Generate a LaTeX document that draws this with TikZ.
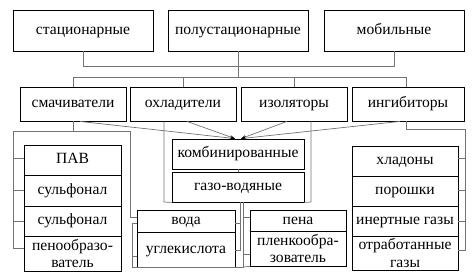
\documentclass[tikz,border=0pt]{standalone}
\usepackage{fontspec}
\setmainfont{Liberation Serif}
\usetikzlibrary{arrows.meta}
\begin{document}
\begin{tikzpicture}[x=1pt,y=-1pt,
  box/.style={draw=black,line width=0.8pt,inner sep=0pt,align=center,
    font=\fontsize{15.6}{17.5}\selectfont,text height=10.8pt,text depth=3.6pt},
  box2/.style={draw=black,line width=0.8pt,inner sep=0pt,align=center,
    font=\fontsize{15.6}{17.5}\selectfont},
  conn/.style={draw=black!55,line width=0.7pt},
  arr/.style={draw=black!55,line width=0.7pt,-{Stealth[length=5pt,width=3.5pt,color=black]}}]
\useasboundingbox (0,0) rectangle (475,277);
% top row
\node[box,minimum width=140,minimum height=41] (stac) at (83,30.5) {стационарные};
\node[box,minimum width=140,minimum height=41] (polu) at (238,30.5) {полустационарные};
\node[box,minimum width=140,minimum height=41] (mob) at (394,30.5) {мобильные};
% second row
\node[box,minimum width=106,minimum height=34] (smach) at (73,104) {смачиватели};
\node[box,minimum width=106,minimum height=34] (ohl) at (183,104) {охладители};
\node[box,minimum width=106,minimum height=34] (izol) at (294,104) {изоляторы};
\node[box,minimum width=112,minimum height=34] (ingib) at (408,104) {ингибиторы};
% left stack
\node[box,minimum width=97,minimum height=30] (pav) at (72.5,160) {ПАВ};
\node[box,minimum width=97,minimum height=31] (sulf1) at (72.5,190.5) {сульфонал};
\node[box,minimum width=97,minimum height=30] (sulf2) at (72.5,221) {сульфонал};
\node[box2,minimum width=97,minimum height=35] (peno) at (72.5,253.5) {пенообразо-\\ватель};
% center
\node[box,minimum width=132,minimum height=30] (komb) at (238,154) {комбинированные};
\node[box,minimum width=132,minimum height=30] (gaz) at (238,187) {газо-водяные};
% water stack
\node[box,minimum width=98,minimum height=22] (voda) at (186,221) {вода};
\node[box,minimum width=98,minimum height=35] (uglek) at (186,249.5) {углекислота};
% foam stack
\node[box,minimum width=96,minimum height=21] (pena) at (298,220.5) {пена};
\node[box2,minimum width=96,minimum height=35] (plen) at (298,248.5) {пленкообра-\\зователь};
% right stack
\node[box,minimum width=106,minimum height=30] (hlad) at (405,161) {хладоны};
\node[box,minimum width=106,minimum height=30] (por) at (405,191) {порошки};
\node[box,minimum width=106,minimum height=30] (inert) at (405,221) {инертные газы};
\node[box2,minimum width=106,minimum height=34] (otrab) at (405,253) {отработанные\\газы};
% bus coordinates
\coordinate (busA) at (238,66);
\coordinate (busB) at (238,77);
\coordinate (lbTL) at (13,131);
\coordinate (lbTR) at (130,131);
\coordinate (fL) at (164,202);
\coordinate (fR) at (311,202);
\coordinate (gv) at (243,202);
\coordinate (gv2) at (240,202);
\coordinate (vBL) at (132,267);
\coordinate (rbTR) at (465,129);
% top connectors
\draw[conn] (stac.south) |- (busA);
\draw[conn] (mob.south) |- (busA);
\draw[conn] (polu.south) -- (busB);
\draw[conn] (smach.north) |- (busB);
\draw[conn] (ohl.north) |- (busB);
\draw[conn] (izol.north) |- (busB);
\draw[conn] ([xshift=-2pt]ingib.north) |- (busB);
% left bracket
\draw[conn] (smach.south) -- (smach.south |- lbTL);
\draw[conn] (lbTL) -- (lbTR);
\draw[conn] (lbTL) |- ([yshift=2pt]pav.west);
\draw[conn] (lbTL) |- (sulf1.west);
\draw[conn] (lbTL) |- (sulf2.west);
\draw[conn] (lbTL) |- ([yshift=5pt]peno.west);
\draw[conn] (lbTR) |- ([yshift=4pt]voda.west);
% combined frame
\draw[conn] (ohl.south -| fL) -- (fL) -- (gaz.south west);
\draw[conn] (izol.south -| fR) -- (fR) -- (gaz.south east);
\draw[conn] (komb) -- (gaz);
% arrows
\draw[arr] ([xshift=7pt]smach.south) -- ([xshift=-3pt]komb.north);
\draw[arr] ([xshift=4pt]ohl.south) -- ([xshift=-3pt]komb.north);
\draw[arr] ([xshift=-7pt]izol.south) -- ([xshift=3pt]komb.north);
\draw[arr] ([xshift=-8pt]ingib.south) -- ([xshift=3pt]komb.north);
% water / foam brackets
\draw[conn] (gv) -- (gv |- vBL) -- (vBL) |- ([yshift=-2pt]voda.west);
\draw[conn] (vBL) |- ([yshift=-7pt]uglek.west);
\draw[conn] (gv2) |- ([yshift=-2pt]voda.east);
\draw[conn] (gv2) |- ([yshift=-1pt]uglek.east);
\draw[conn] (gv) |- ([yshift=3pt]pena.west);
\draw[conn] (gv) |- ([yshift=-6pt]plen.west);
\draw[conn] (gv |- vBL) -- (plen.south west);
% right bracket
\draw[conn] ([xshift=-2pt]ingib.south) |- (rbTR);
\draw[conn] (rbTR) |- ([yshift=3pt]hlad.east);
\draw[conn] (rbTR) |- ([yshift=1pt]por.east);
\draw[conn] (rbTR) |- (inert.east);
\draw[conn] (rbTR) |- ([yshift=3pt]otrab.east);
\end{tikzpicture}
\end{document}
